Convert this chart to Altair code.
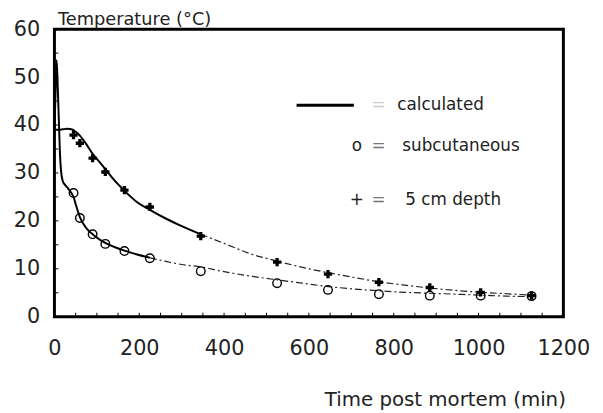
import altair as alt
import pandas as pd

meas_time = [45, 60, 90, 120, 165, 225, 345, 525, 645, 765, 885, 1005, 1125]
subcut_temp = [25.8, 20.6, 17.2, 15.2, 13.7, 12.2, 9.5, 7.0, 5.6, 4.7, 4.4, 4.4, 4.3]
depth_temp = [37.9, 36.2, 33.1, 30.2, 26.4, 22.9, 16.8, 11.4, 8.9, 7.2, 6.1, 5.1, 4.4]

# ---- calculated curves ----
calc_depth_time = [0, 10, 20, 30, 40, 50, 60, 75, 90, 105, 120, 140, 165, 195, 225,
                   260, 300, 345, 400, 460, 525, 600, 645, 700, 765, 825, 885, 945,
                   1005, 1065, 1125]
calc_depth_temp = [39.0, 39.0, 39.1, 39.2, 39.1, 38.6, 37.8, 36.0, 34.0, 32.4, 30.8,
                   28.6, 26.3, 23.9, 22.3, 20.6, 18.9, 17.2, 15.3, 13.2, 11.6, 10.0,
                   9.2, 8.3, 7.3, 6.6, 6.0, 5.5, 5.1, 4.8, 4.5]
calc_sub_time = [0, 3, 5, 7, 10, 13, 16, 20, 25, 32, 40, 45, 50, 60, 75, 90, 105, 120,
                 140, 165, 195, 225, 260, 300, 345, 400, 460, 525, 585, 645, 705, 765,
                 825, 885, 945, 1005, 1065, 1125]
calc_sub_temp = [39.0, 48.0, 53.5, 50.0, 42.0, 34.0, 30.0, 28.2, 27.5, 26.8, 25.8, 25.0,
                 23.5, 20.8, 18.5, 17.2, 16.2, 15.4, 14.6, 13.8, 13.0, 12.3, 11.6, 10.9,
                 10.4, 9.4, 8.5, 7.7, 7.0, 6.3, 5.8, 5.4, 5.1, 4.9, 4.7, 4.5, 4.3, 4.2]
depth_solid_until = 345
sub_solid_until = 225

x_ticks = [0, 200, 400, 600, 800, 1000, 1200]
y_ticks = [0, 10, 20, 30, 40, 50, 60]
minor_x = [0, 50, 100, 150, 200, 250, 300, 350, 400, 450, 500, 550, 600, 650, 700,
           750, 800, 850, 900, 950, 1000, 1050, 1100, 1150, 1200]
minor_y = [0, 5, 10, 15, 20, 25, 30, 35, 40, 45, 50, 55, 60]

# ---- tables ----
rows = []
for name, ts, vs, lim in [("depth", calc_depth_time, calc_depth_temp, depth_solid_until),
                          ("sub", calc_sub_time, calc_sub_temp, sub_solid_until)]:
    for t, v in zip(ts, vs):
        if t <= lim:
            rows.append({"t": t, "T": v, "curve": name, "seg": "solid"})
        if t >= lim:
            rows.append({"t": t, "T": v, "curve": name, "seg": "dash"})
curves = pd.DataFrame(rows)
circ = pd.DataFrame({"t": meas_time, "T": subcut_temp})
plus = pd.DataFrame({"t": meas_time, "T": depth_temp})
mx = pd.DataFrame({"t": minor_x})
my = pd.DataFrame({"T": minor_y})

FONT = "DejaVu Sans"

x_enc = alt.X("t:Q", scale=alt.Scale(domain=[0, 1200], nice=False, zero=True),
              axis=alt.Axis(values=x_ticks, format="d", title="Time post mortem (min)",
                            titleX=517, titleY=84, titleAlign="right",
                            titleBaseline="middle", titleAngle=0,
                            titleFont=FONT, titleFontSize=20, titleFontWeight="normal",
                            titleColor="#222",
                            labelPadding=21, labelFlush=False, labelOverlap=False,
                            labelFont=FONT, labelFontSize=21, labelColor="#222",
                            ticks=False, tickSize=0, domain=False, grid=False))
y_enc = alt.Y("T:Q", scale=alt.Scale(domain=[0, 60], nice=False, zero=True),
              axis=alt.Axis(values=y_ticks, format="d", title="Temperature (°C)",
                            titleX=3, titleY=-5, titleAlign="left",
                            titleBaseline="alphabetic", titleAngle=0,
                            titleFont=FONT, titleFontSize=18, titleFontWeight="normal",
                            titleColor="#222",
                            labelPadding=15, labelFlush=False, labelOverlap=False,
                            labelFont=FONT, labelFontSize=21, labelColor="#222",
                            ticks=False, tickSize=0, domain=False, grid=False))

solid = alt.Chart(curves).transform_filter(alt.datum.seg == "solid").mark_line(
    color="black", strokeWidth=2, interpolate="monotone").encode(
    x=x_enc, y=y_enc, detail="curve:N", order="t:Q")
dash = alt.Chart(curves).transform_filter(alt.datum.seg == "dash").mark_line(
    color="#222", strokeWidth=1.2, strokeDash=[7, 3, 2, 3], interpolate="monotone").encode(
    x=x_enc, y=y_enc, detail="curve:N", order="t:Q")

circles = alt.Chart(circ).mark_point(shape="circle", filled=False, color="black",
                                     strokeWidth=1.4, size=75, opacity=1).encode(x=x_enc, y=y_enc)
pluses = alt.Chart(plus).mark_point(shape="cross", filled=True, color="black",
                                    size=70, opacity=1).encode(x=x_enc, y=y_enc)

tick_x = alt.Chart(mx).mark_rule(color="black", strokeWidth=1).encode(
    x=x_enc, y=alt.value(291), y2=alt.value(287))
tick_y = alt.Chart(my).mark_rule(color="black", strokeWidth=1).encode(
    y=y_enc, x=alt.value(0), x2=alt.value(4))

one = alt.Data(values=[{}])
leg_line = alt.Chart(one).mark_rule(color="black", strokeWidth=3).encode(
    x=alt.value(245), x2=alt.value(303), y=alt.value(77))


def txt(s, x, y, color="#222", size=17, align="left"):
    return alt.Chart(one).mark_text(text=s, font=FONT, fontSize=size, color=color,
                                    align=align, baseline="middle").encode(
        x=alt.value(x), y=alt.value(y))


legend = [
    leg_line,
    txt("=", 328, 77, color="#ccc", align="center"),
    txt("calculated", 347, 77),
    txt("o", 306, 118, align="center"),
    txt("=", 328, 118, color="#777", align="center"),
    txt("subcutaneous", 352, 118),
    txt("+", 306, 173, align="center"),
    txt("=", 328, 173, color="#777", align="center"),
    txt("5 cm depth", 355, 173),
]

chart = alt.layer(solid, dash, circles, pluses, tick_x, tick_y, *legend).properties(
    width=515, height=291,
    autosize=alt.AutoSizeParams(type="none"),
    padding={"left": 47, "top": 19, "right": 32, "bottom": 95},
    background="white",
).configure_view(stroke="black", strokeWidth=3)

chart.save("out.html", embed_options={"renderer": "svg", "actions": False})
